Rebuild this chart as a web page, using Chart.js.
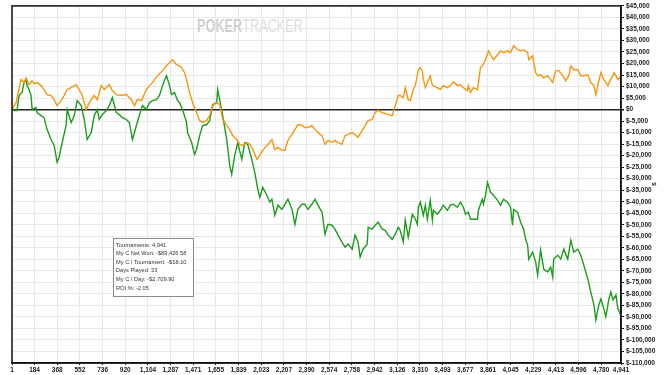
<!DOCTYPE html>
<html>
<head>
<meta charset="utf-8">
<script src="https://cdn.jsdelivr.net/npm/chart.js@4.4.1/dist/chart.umd.min.js"></script>
<style>
  html, body { margin: 0; padding: 0; background: #fff; }
  #wrap { width: 667px; height: 375px; position: relative; }
</style>
</head>
<body>
<div id="wrap"><canvas id="myChart"></canvas></div>
<script>
// tick labels on the x axis (tournament number)
const xTicks = [1, 184, 368, 552, 736, 920, 1104, 1287, 1471, 1655, 1839, 2023, 2207, 2390,
  2574, 2758, 2942, 3126, 3310, 3493, 3677, 3861, 4045, 4229, 4413, 4596, 4780, 4941]

// orange line
const orangeX = [1, 34, 74, 99, 115, 139, 164, 180, 204, 237, 261, 286, 318, 343, 367, 400, 424, 449, 481, 522,
  546, 571, 603, 628, 668, 693, 725, 750, 790, 815, 847, 888, 929, 969, 994, 1018, 1051, 1091, 1116, 1140,
  1181, 1222, 1254, 1279, 1303, 1336, 1360, 1376, 1401, 1417, 1441, 1466, 1498, 1523, 1547, 1580, 1604, 1629, 1661, 1686,
  1710, 1743, 1767, 1791, 1824, 1848, 1873, 1905, 1930, 1954, 1987, 2011, 2035, 2068, 2092, 2109, 2133, 2158, 2190, 2215,
  2239, 2272, 2296, 2320, 2353, 2377, 2402, 2434, 2459, 2483, 2516, 2540, 2564, 2597, 2621, 2646, 2678, 2703, 2727, 2760,
  2784, 2808, 2841, 2866, 2890, 2922, 2947, 2971, 3004, 3028, 3053, 3085, 3110, 3134, 3150, 3175, 3191, 3215, 3232, 3256,
  3273, 3297, 3313, 3329, 3338, 3354, 3370, 3394, 3411, 3451, 3476, 3500, 3533, 3557, 3581, 3614, 3638, 3663, 3695, 3703,
  3720, 3744, 3777, 3785, 3801, 3817, 3842, 3866, 3882, 3907, 3940, 3964, 3988, 4021, 4045, 4070, 4102, 4127, 4151, 4184,
  4192, 4224, 4249, 4265, 4289, 4314, 4346, 4371, 4387, 4412, 4436, 4468, 4493, 4517, 4534, 4558, 4591, 4615, 4639, 4672,
  4696, 4721, 4737, 4761, 4778, 4802, 4835, 4843, 4875, 4883, 4900, 4916, 4941]
const orangeY = [0, 3000, 13000, 11700, 13800, 10800, 12500, 11300, 11700, 10400, 8700, 6500, 6100, 4300, 1700, 3900, 6100, 8700, 9500, 10800,
  8700, 6100, 0, 3000, 6100, 4300, 10400, 8700, 10800, 8200, 6500, 6100, 6500, 4300, 1700, 4300, 3900, 8700, 10400, 11700,
  14700, 16900, 19000, 20300, 21600, 19500, 19000, 18200, 16000, 13000, 7400, 3000, -1300, -4800, -5600, -4800, -2600, 1700, 3000, 2200,
  -4300, -6900, -8700, -11300, -13000, -15100, -15600, -14300, -15100, -17300, -21600, -19900, -17700, -15600, -14300, -13000, -17300, -16400, -17700, -17700,
  -13400, -10800, -8700, -6500, -6900, -7800, -7800, -6900, -8700, -10000, -11300, -15100, -13400, -14300, -13400, -14300, -15100, -11300, -10800, -10000,
  -10800, -12100, -9100, -6900, -4800, -4300, -1300, -400, -1300, -1700, -2200, -2600, 1700, 6100, 6100, 5200, 9500, 4300, 3900, 8700,
  10400, 17300, 18200, 16900, 13000, 9500, 11700, 14700, 10400, 9500, 8700, 10400, 9500, 10400, 12100, 10400, 10800, 9500, 8200, 10400,
  7400, 9500, 8700, 11700, 18200, 19000, 21600, 25500, 23800, 21600, 23800, 25500, 24700, 25500, 24700, 27700, 26000, 25500, 26000, 24700,
  21600, 23400, 16000, 14700, 15100, 13800, 14700, 13000, 11700, 16900, 16900, 14700, 12500, 14700, 19000, 17300, 17300, 14700, 14700, 15100,
  11700, 10400, 6500, 12500, 16000, 13000, 10400, 11700, 14700, 16000, 14700, 13000, 14700]

// green line (net won)
const greenX = [1, 17, 42, 58, 82, 99, 115, 123, 139, 156, 164, 196, 204, 237, 261, 286, 318, 343, 367, 383,
  408, 440, 449, 481, 506, 530, 563, 587, 611, 644, 668, 693, 709, 733, 766, 790, 815, 847, 872, 896,
  929, 953, 978, 1010, 1034, 1059, 1091, 1116, 1140, 1173, 1197, 1222, 1254, 1279, 1295, 1319, 1344, 1360, 1384, 1417,
  1425, 1458, 1482, 1498, 1523, 1547, 1580, 1604, 1629, 1661, 1669, 1686, 1710, 1743, 1767, 1783, 1808, 1832, 1865, 1889,
  1913, 1946, 1970, 1995, 2011, 2035, 2068, 2092, 2109, 2133, 2158, 2190, 2215, 2239, 2272, 2296, 2320, 2353, 2377, 2402,
  2434, 2459, 2483, 2516, 2540, 2564, 2597, 2621, 2646, 2678, 2703, 2727, 2760, 2784, 2808, 2825, 2849, 2882, 2890, 2922,
  2947, 2971, 3004, 3028, 3053, 3085, 3110, 3134, 3150, 3175, 3191, 3215, 3248, 3273, 3289, 3297, 3313, 3329, 3338, 3354,
  3370, 3394, 3411, 3419, 3451, 3476, 3500, 3533, 3557, 3581, 3614, 3638, 3663, 3679, 3703, 3720, 3744, 3777, 3785, 3801,
  3817, 3825, 3842, 3858, 3866, 3882, 3907, 3940, 3964, 3988, 4021, 4045, 4061, 4070, 4102, 4127, 4151, 4167, 4184, 4192,
  4224, 4249, 4265, 4289, 4314, 4346, 4371, 4387, 4395, 4428, 4452, 4477, 4509, 4534, 4558, 4591, 4615, 4639, 4672, 4696,
  4721, 4737, 4761, 4778, 4802, 4818, 4843, 4859, 4875, 4900, 4916, 4941]
const greenY = [0, -400, -400, 6100, 7400, 11700, 13000, 10400, 8700, 6100, 0, 900, -1300, -2600, -3500, -8700, -13000, -15600, -22900, -20800,
  -14300, -6900, 0, -5600, -2600, 3900, 1700, -4300, -13000, -10000, -2600, 0, -4300, -2200, -400, 1700, 5200, -1300, -2200, -3500,
  -4300, -5600, -13000, -6900, -2600, 1700, 0, 3000, 3900, 4300, 6100, 10400, 14700, 10400, 6500, 7400, 3900, 3000, 0, -5600,
  -10000, -14300, -19500, -17300, -11300, -6900, -6500, -4800, 2200, 3000, 8700, 4300, -2600, -13000, -24200, -28100, -19900, -14300, -21600, -14300,
  -15100, -21600, -27300, -34600, -38100, -33800, -37200, -40200, -38900, -45900, -41500, -43300, -41100, -38900, -43300, -49800, -43300, -41100, -41100, -43300,
  -41100, -38900, -41500, -44600, -54100, -49800, -50200, -51900, -54500, -57500, -59700, -58400, -60600, -54500, -57500, -64000, -60600, -58400, -51100, -51900,
  -50200, -48900, -51900, -52400, -54500, -56300, -54100, -51100, -52400, -57500, -48000, -55400, -45400, -47600, -49800, -42400, -40200, -43700, -45900, -41500,
  -47600, -39400, -48000, -43700, -45400, -43700, -41500, -43700, -41500, -41100, -42400, -40200, -42400, -45400, -44600, -47600, -47600, -47600, -43700, -41100,
  -38900, -41100, -37200, -31600, -32900, -35900, -37200, -39400, -41500, -38900, -40200, -42400, -50200, -43300, -44600, -48900, -51900, -56300, -58800, -64900,
  -61900, -66200, -71800, -61000, -69200, -70500, -68400, -72700, -64900, -63200, -64900, -60600, -64900, -56700, -61900, -60600, -63200, -67500, -73600, -79200,
  -84800, -91300, -84800, -82200, -86500, -90000, -82200, -79200, -82600, -80500, -86500, -89426.58]

// stats box text
const statLines = ['Tournaments: 4,941', 'My C Net Won: -$89,426.58', 'My C / Tournament: -$18.10',
  'Days Played: 33', 'My C / Day: -$2,709.90', 'ROI %: -2.05']

const toPoints = (xs, ys) => xs.map((x, i) => ({ x: x, y: ys[i] }))

// frame, watermark, stats box and "$" title
const extras = {
  id: 'extras',
  beforeDatasetsDraw(chart) {
    const ctx = chart.ctx
    ctx.save()
    // watermark
    ctx.textBaseline = 'alphabetic'
    ctx.font = 'bold 19px "Liberation Sans", Arial, sans-serif'
    const w1 = ctx.measureText('POKER').width
    ctx.font = '19px "Liberation Sans", Arial, sans-serif'
    const w2 = ctx.measureText('TRACKER').width
    const sx = 106 / (w1 + w2)
    ctx.translate(197, 32)
    ctx.scale(sx, 1)
    ctx.font = 'bold 19px "Liberation Sans", Arial, sans-serif'
    ctx.fillStyle = '#cfcfcf'
    ctx.fillText('POKER', 0, 0)
    ctx.font = '19px "Liberation Sans", Arial, sans-serif'
    ctx.fillStyle = '#dedede'
    ctx.fillText('TRACKER', w1, 0)
    ctx.restore()
  },
  afterDraw(chart) {
    const ctx = chart.ctx
    const a = chart.chartArea
    ctx.save()
    ctx.strokeStyle = '#111'
    ctx.lineWidth = 1.5
    ctx.strokeRect(a.left, a.top, a.right - a.left, a.bottom - a.top)

    // stats box
    ctx.fillStyle = '#fff'
    ctx.fillRect(113, 238, 80, 58)
    ctx.strokeStyle = '#8a8a8a'
    ctx.lineWidth = 1
    ctx.strokeRect(113.5, 238.5, 80, 58)
    ctx.fillStyle = '#333'
    ctx.font = '5.7px "Liberation Sans", Arial, sans-serif'
    ctx.textBaseline = 'middle'
    statLines.forEach((t, i) => ctx.fillText(t, 116, 245 + i * 8.6))

    // y axis title
    ctx.translate(654, 184)
    ctx.rotate(-Math.PI / 2)
    ctx.fillStyle = '#222'
    ctx.font = 'bold 6px "Liberation Sans", Arial, sans-serif'
    ctx.textAlign = 'center'
    ctx.fillText('$', 0, 0)
    ctx.restore()
  }
}

const tickFont = { family: '"Liberation Sans", Arial, sans-serif', size: 6.5, weight: 'bold' }

new Chart(document.getElementById('myChart'), {
  type: 'line',
  data: {
    datasets: [
      {
        label: 'My C All-In EV',
        data: toPoints(orangeX, orangeY),
        borderColor: '#f7960f',
        borderWidth: 1.4,
        pointRadius: 0,
        tension: 0
      },
      {
        label: 'My C Net Won',
        data: toPoints(greenX, greenY),
        borderColor: '#1c9c1c',
        borderWidth: 1.4,
        pointRadius: 0,
        tension: 0
      }
    ]
  },
  options: {
    responsive: true,
    maintainAspectRatio: false,
    animation: false,
    layout: { padding: { left: 12, top: 3, right: 0, bottom: 0 } },
    plugins: { legend: { display: false }, tooltip: { enabled: false } },
    scales: {
      x: {
        type: 'linear',
        min: 1,
        max: 4941,
        afterBuildTicks: s => { s.ticks = xTicks.map(v => ({ value: v })) },
        afterFit: s => { s.height = 12 },
        ticks: {
          autoSkip: false,
          maxRotation: 0,
          padding: 1,
          color: '#222',
          font: tickFont,
          callback: v => v.toLocaleString('en-US')
        },
        grid: { color: '#e8e8e8', tickColor: '#111', tickLength: 2 },
        border: { color: '#111', width: 1.5 }
      },
      y: {
        position: 'right',
        min: -110000,
        max: 45000,
        afterFit: s => { s.width = 46 },
        ticks: {
          stepSize: 5000,
          autoSkip: false,
          padding: 2,
          color: '#222',
          font: tickFont,
          callback: v => '$' + v.toLocaleString('en-US')
        },
        grid: {
          color: c => c.tick && c.tick.value === 0 ? '#222' : '#e8e8e8',
          lineWidth: c => c.tick && c.tick.value === 0 ? 1.5 : 1,
          tickColor: '#111',
          tickLength: 3
        },
        border: { color: '#111', width: 1.5 }
      }
    }
  },
  plugins: [extras]
})
</script>
</body>
</html>
